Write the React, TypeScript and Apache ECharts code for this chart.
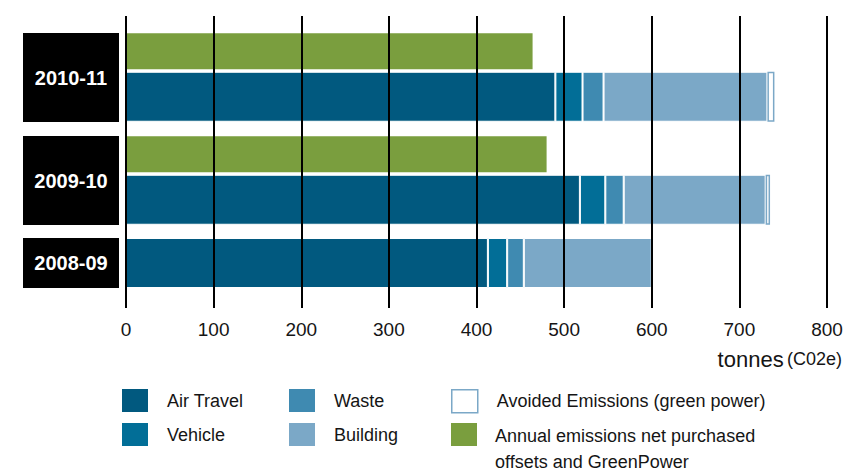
import React, { useEffect, useRef } from 'react';
import * as echarts from 'echarts';

// ---- data ----
const years = ['2010-11', '2009-10', '2008-09'];
const airTravel = [490, 518, 413];
const vehicle = [31, 29, 22];
const waste = [24, 21, 19];
const building = [187, 162, 146];
const avoided: (number | null)[] = [8, 5, null];
const netEmissions: (number | null)[] = [464, 480, null];
const axisMin = 0;
const axisMax = 800;
const axisInterval = 100;
const axisTitle = 'tonnes';
const axisUnit = '(C02e)';

const NAME_AIR = 'Air Travel';
const NAME_VEHICLE = 'Vehicle';
const NAME_WASTE = 'Waste';
const NAME_BUILDING = 'Building';
const NAME_AVOIDED = 'Avoided Emissions (green power)';
const NAME_NET = 'Annual emissions net purchased offsets and GreenPower';
const NET_LABEL = 'Annual emissions net purchased\noffsets and GreenPower';

const FONT = "'Liberation Sans', Arial, sans-serif";
const TEXT = '#151515';
const C_AIR = '#01597f';
const C_VEHICLE = '#026e97';
const C_WASTE = '#3f8ab1';
const C_BUILDING = '#7ba8c7';
const C_NET = '#7a9e3e';

export default function App() {
  const ref = useRef<HTMLDivElement>(null);
  useEffect(() => {
    if (!ref.current) return;
    const chart = echarts.init(ref.current, undefined, { renderer: 'svg' });

    const gridTops = [33, 136, 238];
    const gridHeights = [89, 89, 50];

    const stackedDefs = [
      { name: NAME_AIR, values: airTravel as (number | null)[], color: C_AIR, border: '#ffffff', bw: 1 },
      { name: NAME_VEHICLE, values: vehicle as (number | null)[], color: C_VEHICLE, border: '#ffffff', bw: 1 },
      { name: NAME_WASTE, values: waste as (number | null)[], color: C_WASTE, border: '#ffffff', bw: 1 },
      { name: NAME_BUILDING, values: building as (number | null)[], color: C_BUILDING, border: '#ffffff', bw: 1 },
      { name: NAME_AVOIDED, values: avoided, color: '#ffffff', border: C_BUILDING, bw: 1.5 },
    ];

    const grids: any[] = [];
    const xAxes: any[] = [];
    const yAxes: any[] = [];
    const series: any[] = [];

    years.forEach((year, i) => {
      grids.push({ left: 126, width: 701, top: gridTops[i], height: gridHeights[i] });
      xAxes.push({ type: 'value', gridIndex: i, min: axisMin, max: axisMax, interval: axisInterval, show: false });
      yAxes.push({
        type: 'category',
        gridIndex: i,
        data: [year],
        axisLine: { show: false },
        axisTick: { show: false },
        splitLine: { show: false },
        axisLabel: {
          margin: 7,
          formatter: (v: string) => `{b|${v}}`,
          rich: {
            b: {
              width: 96,
              height: gridHeights[i],
              lineHeight: gridHeights[i],
              align: 'center',
              verticalAlign: 'middle',
              backgroundColor: '#000',
              color: '#fff',
              fontWeight: 'bold',
              fontSize: 20,
              fontFamily: FONT,
            },
          },
        },
      });
      if (netEmissions[i] != null) {
        series.push({
          name: NAME_NET,
          type: 'bar',
          xAxisIndex: i,
          yAxisIndex: i,
          stack: 'net' + i,
          barWidth: 36,
          barGap: '7%',
          data: [netEmissions[i]],
          itemStyle: { color: C_NET },
        });
      }
      stackedDefs.forEach((d) => {
        series.push({
          name: d.name,
          type: 'bar',
          xAxisIndex: i,
          yAxisIndex: i,
          stack: 'total' + i,
          barWidth: 50,
          barGap: '7%',
          data: [d.values[i] == null ? '-' : d.values[i]],
          itemStyle: { color: d.color, borderColor: d.border, borderWidth: d.bw },
        });
      });
    });

    // overlay grid: vertical black lines + tick labels
    const ov = years.length;
    grids.push({ left: 126, width: 701, top: 16, height: 292 });
    xAxes.push({
      type: 'value',
      gridIndex: ov,
      min: axisMin,
      max: axisMax,
      interval: axisInterval,
      z: 10,
      axisLine: { show: false },
      axisTick: { show: false },
      splitLine: { show: true, lineStyle: { color: '#000', width: 2 } },
      axisLabel: { margin: 12, fontSize: 19, fontFamily: FONT, color: TEXT },
    });
    yAxes.push({ type: 'value', gridIndex: ov, show: false, splitLine: { show: false } });

    const legendText = { fontSize: 18, fontFamily: FONT, color: TEXT, padding: [0, 0, 0, 14] };
    const legendCommon = {
      orient: 'vertical',
      icon: 'rect',
      itemWidth: 26,
      itemHeight: 23,
      itemGap: 11,
      padding: 0,
      height: 300,
      selectedMode: false,
      textStyle: legendText,
    };

    const option: any = {
      animation: false,
      backgroundColor: '#ffffff',
      grid: grids,
      xAxis: xAxes,
      yAxis: yAxes,
      series,
      legend: [
        {
          ...legendCommon,
          left: 122,
          top: 389,
          data: [
            { name: NAME_AIR, itemStyle: { borderWidth: 0 } },
            { name: NAME_VEHICLE, itemStyle: { borderWidth: 0 } },
          ],
        },
        {
          ...legendCommon,
          left: 289,
          top: 389,
          data: [
            { name: NAME_WASTE, itemStyle: { borderWidth: 0 } },
            { name: NAME_BUILDING, itemStyle: { borderWidth: 0 } },
          ],
        },
        {
          ...legendCommon,
          left: 451,
          top: 389,
          data: [{ name: NAME_AVOIDED, itemStyle: { borderWidth: 1.5, borderColor: C_BUILDING } }],
        },
      ],
      graphic: [
        {
          type: 'text',
          right: 6,
          top: 348,
          style: {
            text: `{a|${axisTitle}} {b|${axisUnit}}`,
            rich: {
              a: { fontSize: 22, fontFamily: FONT, fill: TEXT },
              b: { fontSize: 18, fontFamily: FONT, fill: TEXT },
            },
          },
        },
        {
          type: 'rect',
          shape: { x: 451, y: 423, width: 26, height: 23 },
          style: { fill: C_NET },
        },
        {
          type: 'text',
          x: 495,
          y: 423,
          style: {
            text: NET_LABEL,
            fontSize: 18,
            fontFamily: FONT,
            fill: TEXT,
            lineHeight: 26,
            verticalAlign: 'top',
            align: 'left',
          },
        },
      ],
    };
    chart.setOption(option);
    return () => chart.dispose();
  }, []);
  return (
    <div
      ref={ref}
      style={{ position: 'absolute', left: 0, top: 0, width: 848, height: 471 }}
    />
  );
}
